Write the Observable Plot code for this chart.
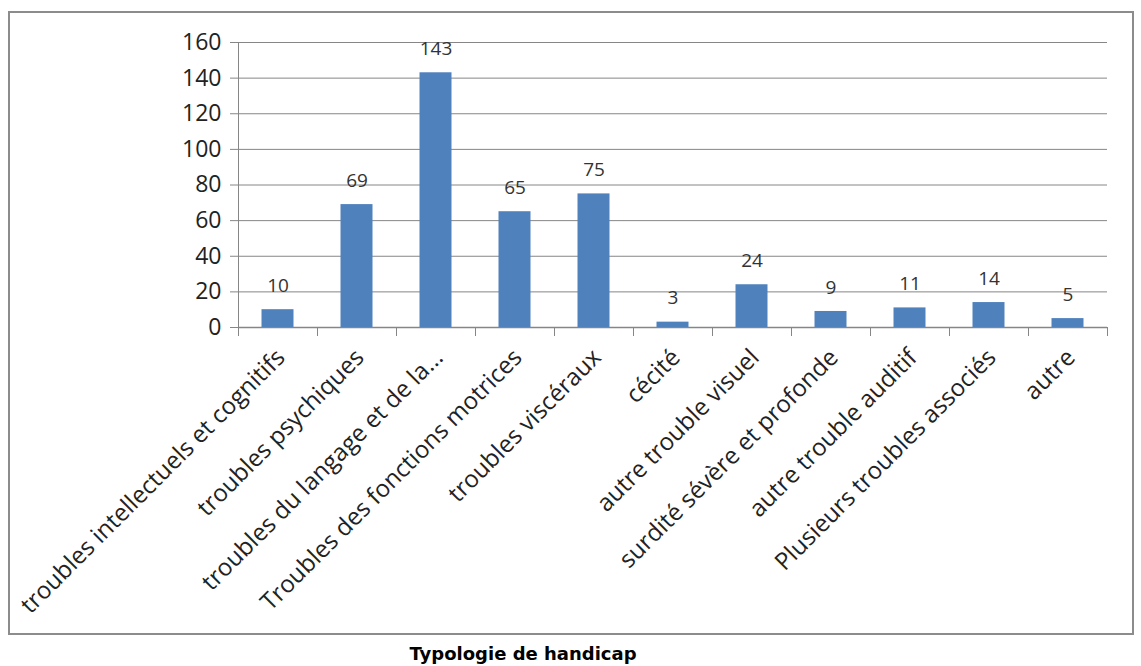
<!DOCTYPE html>
<html><head><meta charset="utf-8">
<script src="https://cdn.jsdelivr.net/npm/d3@7"></script>
<script src="https://cdn.jsdelivr.net/npm/@observablehq/plot@0.6"></script>
<style>
body{margin:0;background:#fff;width:1141px;height:666px;position:relative;overflow:hidden;font-family:"Open Sans",sans-serif}
#frame{position:absolute;left:8px;top:11px;width:1122px;height:620px;border:2px solid #8c8c8c;}
#chart{position:absolute;left:0;top:0}
#title{position:absolute;top:643px;left:0;width:1046px;text-align:center;font:bold 18px "DejaVu Sans",sans-serif;color:#000}
</style></head><body>
<div id="frame"></div><div id="chart"></div><div id="title">Typologie de handicap</div>
<script>
const categories = [
  "troubles intellectuels et cognitifs",
  "troubles psychiques",
  "troubles du langage et de la...",
  "Troubles des fonctions motrices",
  "troubles viscéraux",
  "cécité",
  "autre trouble visuel",
  "surdité sévère et profonde",
  "autre trouble auditif",
  "Plusieurs troubles associés",
  "autre"
];
const values = [10, 69, 143, 65, 75, 3, 24, 9, 11, 14, 5];
const yTicks = [0, 20, 40, 60, 80, 100, 120, 140, 160];

const data = categories.map((c, i) => ({category: c, value: values[i]}));

const W = 1141, H = 640, ML = 238, MR = 34, MT = 42, MB = 313;
const bw = (W - ML - MR) / categories.length;
const barInset = (bw - 32) / 2;
const grey = "#868686";

const chart = Plot.plot({
  width: W, height: H,
  marginLeft: ML, marginRight: MR, marginTop: MT, marginBottom: MB,
  x: {domain: categories, padding: 0, label: null},
  y: {domain: [0, 160], label: null},
  style: {fontFamily: "Open Sans, sans-serif", color: "#222", background: "transparent"},
  marks: [
    Plot.gridY(yTicks, {stroke: grey, strokeOpacity: 1, strokeWidth: 1}),
    Plot.axisY(yTicks, {tickSize: 8, tickPadding: 9, fontSize: 23, stroke: grey, fill: "#222", label: null}),
    Plot.frame({anchor: "left", stroke: grey}),
    Plot.ruleY([0], {stroke: grey, strokeWidth: 1.5}),
    Plot.ruleX(categories, {x: d => d, y1: 0, y2: 0, insetBottom: -9, dx: -bw / 2, stroke: grey}),
    Plot.ruleX([categories[categories.length - 1]], {x: d => d, y1: 0, y2: 0, insetBottom: -9, dx: bw / 2, stroke: grey}),
    Plot.barY(data, {x: "category", y: "value", fill: "#4F81BD", insetLeft: barInset, insetRight: barInset}),
    Plot.text(data, {x: "category", y: "value", text: d => String(d.value), dy: -24, fontSize: 19, fill: "#333"}),
    Plot.axisX({tickRotate: -45, tickSize: 0, tickPadding: 26, dx: 3, fontSize: 24, fill: "#222", label: null})
  ]
});
document.getElementById("chart").appendChild(chart);
</script>
</body></html>
